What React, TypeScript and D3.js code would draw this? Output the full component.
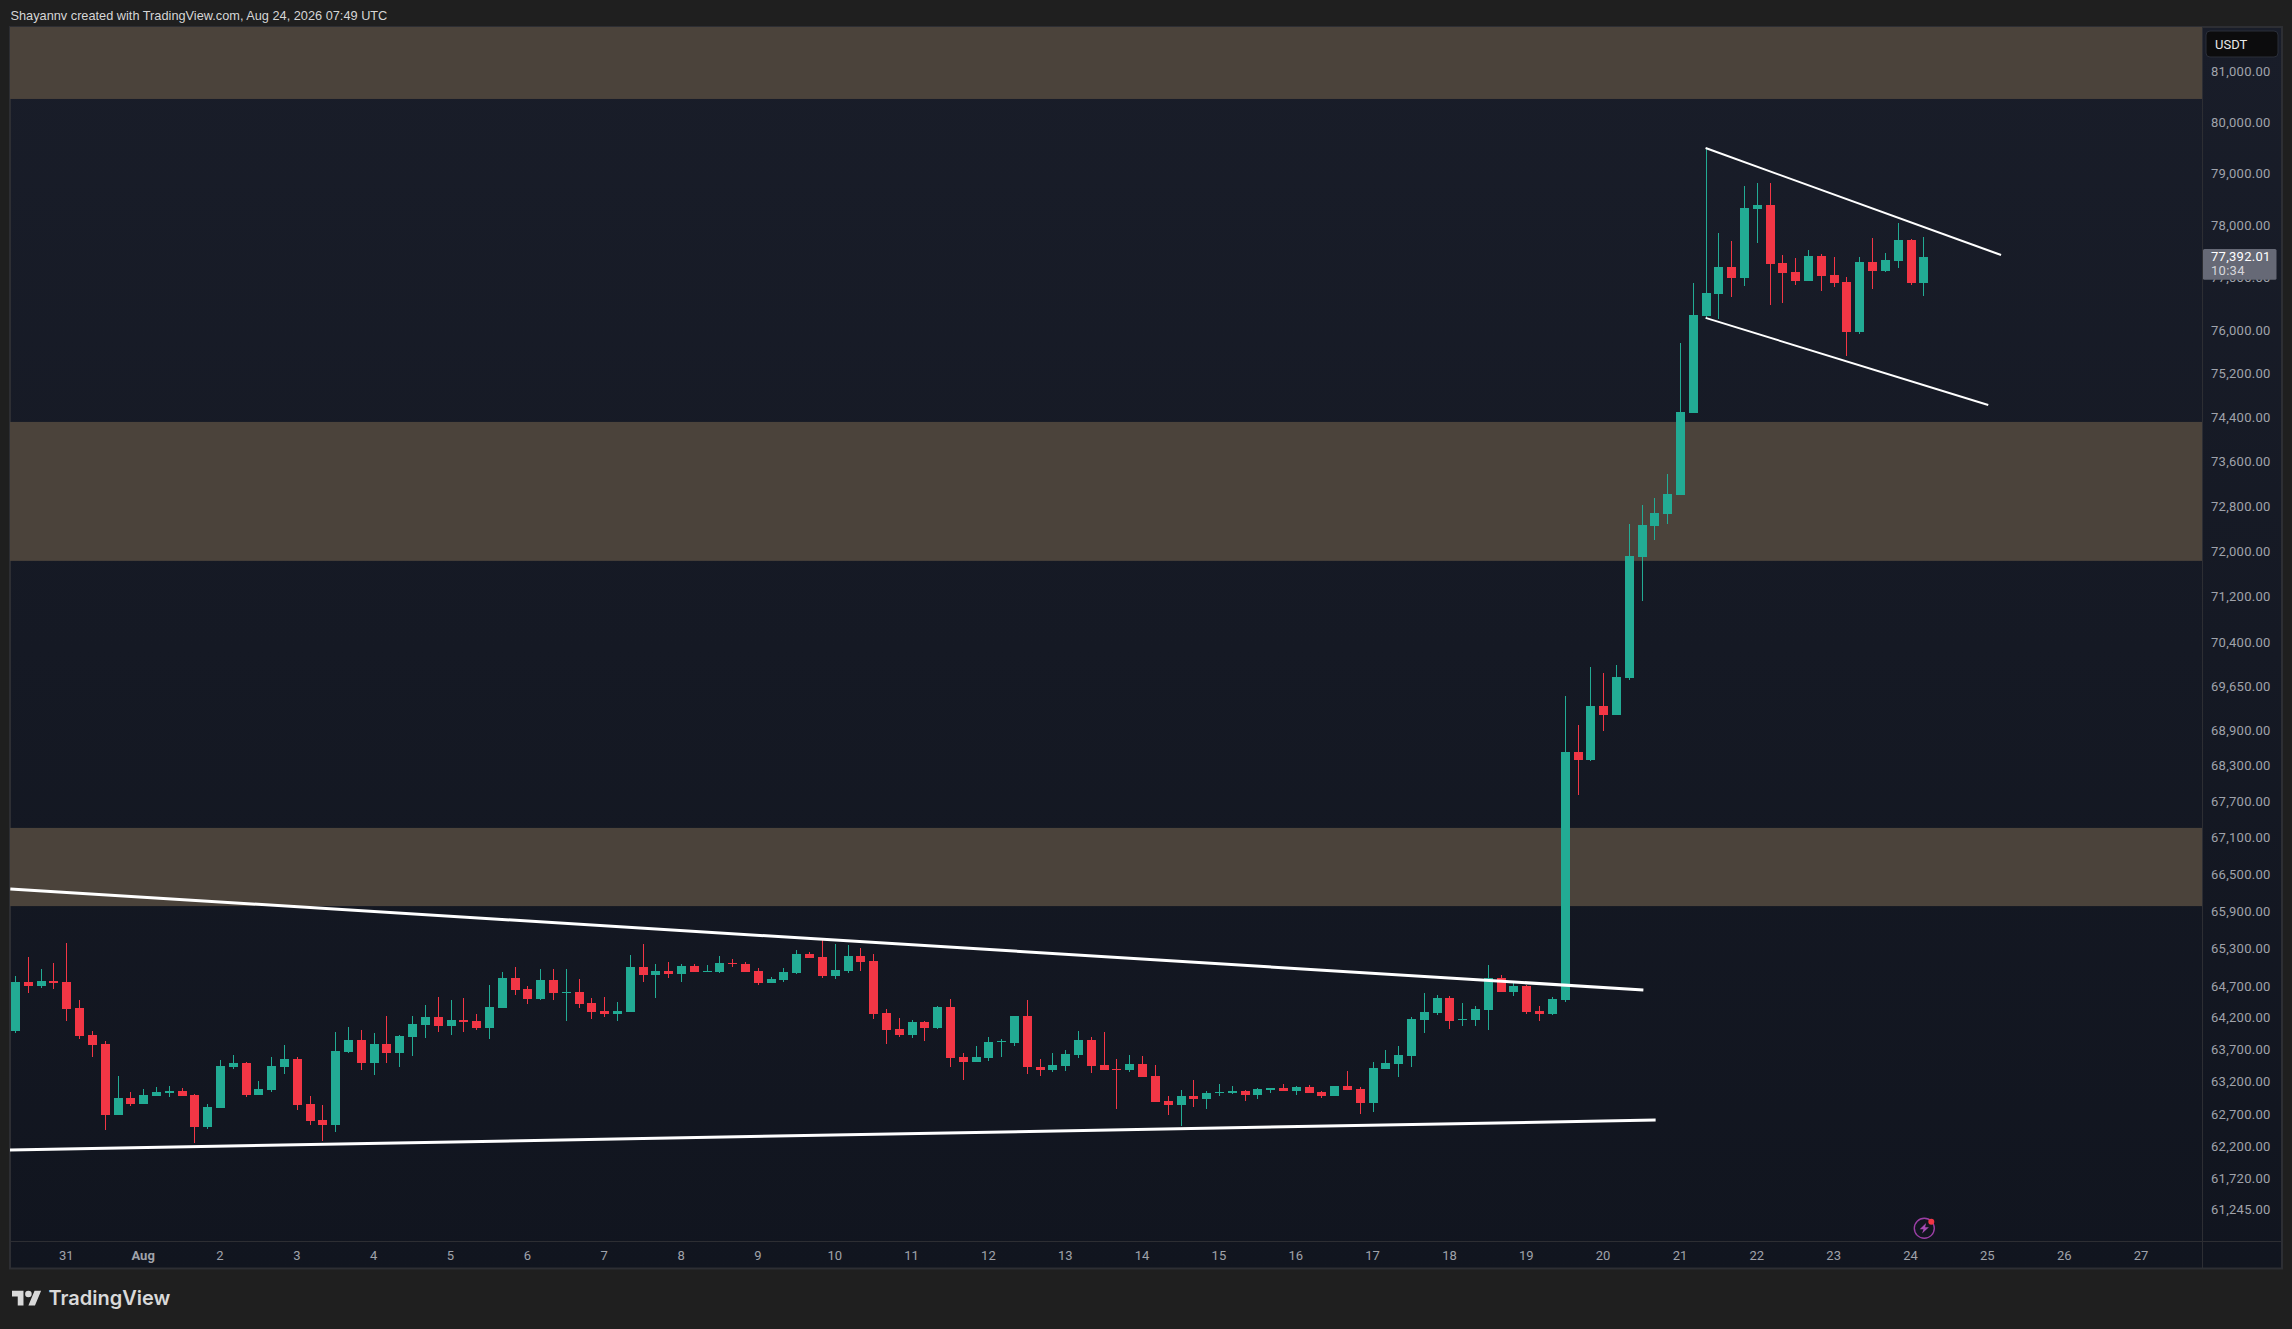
import * as d3 from "d3";

const WIDTH = 2292;
const HEIGHT = 1329;

// 4h BTC/USDT candles (first candle is Jul 30 08:00)
const opens = [
  63993, 64768, 64705, 64784, 64768, 64356, 63930, 63789, 62685, 62948,
  62855, 62979, 63026, 63057, 62995, 62501, 62794, 63430, 63492, 62995,
  63072, 63430, 63555, 62855, 62609, 62532, 63664, 63852, 63492, 63789,
  63648, 63899, 64088, 64213, 64072, 64166, 64150, 64040, 64356, 64832,
  64657, 64498, 64800, 64594, 64609, 64435, 64308, 64261, 64292, 65008,
  64880, 64944, 64896, 65024, 64928, 64928, 65072, 65056, 64944, 64752,
  64800, 64912, 65216, 65168, 64864, 64944, 65184, 65104, 64276, 64025,
  63930, 64135, 64040, 64371, 63586, 63508, 63570, 63820, 63805, 64229,
  63430, 63383, 63445, 63617, 63852, 63461, 63399, 63383, 63477, 63289,
  62902, 62840, 62979, 62933, 63031, 63026, 63057, 62995, 63072, 63103,
  63057, 63119, 63041, 62979, 63134, 63088, 62871, 63399, 63477, 63601,
  64166, 64276, 64514, 64166, 64166, 64324, 64832, 64609, 64705, 64308,
  64261, 64483, 68537, 68401, 69314, 69160, 69795, 71893, 72449, 72661,
  73000, 74486, 76282, 76694, 77205, 76997, 78313, 78389, 77281, 77111,
  76941, 77414, 77054, 76922, 75983, 77300, 77130, 77319, 77716, 76903,
];
const closes = [
  64768, 64705, 64784, 64752, 64339, 63915, 63773, 62685, 62948, 62855,
  62995, 63041, 63062, 62979, 62501, 62809, 63445, 63492, 62995, 63088,
  63445, 63555, 62840, 62593, 62532, 63679, 63852, 63492, 63789, 63648,
  63915, 64103, 64213, 64072, 64166, 64135, 64040, 64371, 64832, 64641,
  64498, 64800, 64594, 64609, 64419, 64292, 64261, 64308, 65008, 64880,
  64944, 64896, 65024, 64928, 64944, 65072, 65061, 64928, 64752, 64816,
  64928, 65216, 65152, 64864, 64960, 65184, 65088, 64261, 64009, 63930,
  64135, 64040, 64371, 63570, 63508, 63586, 63820, 63836, 64229, 63435,
  63383, 63461, 63633, 63852, 63445, 63383, 63383, 63477, 63274, 62886,
  62840, 62979, 62933, 63026, 63041, 63057, 62995, 63088, 63103, 63057,
  63119, 63026, 62979, 63134, 63072, 62871, 63414, 63492, 63617, 64182,
  64292, 64514, 64150, 64182, 64339, 64832, 64609, 64705, 64292, 64261,
  64498, 68537, 68401, 69314, 69160, 69807, 71913, 72467, 72679, 73018,
  74504, 76301, 76713, 77205, 76997, 78332, 78389, 77262, 77092, 76941,
  77414, 77035, 76903, 75983, 77300, 77130, 77338, 77716, 76903, 77392,
];
const highs = [
  64864, 65162, 64971, 65067, 65387, 64477, 63993, 63831, 63289, 63041,
  63083, 63119, 63134, 63098, 63010, 62855, 63539, 63617, 63508, 63212,
  63586, 63773, 63586, 62979, 62840, 63977, 64056, 64009, 63962, 64229,
  63930, 64229, 64403, 64530, 64483, 64514, 64261, 64721, 64928, 65008,
  64705, 64976, 64976, 64976, 64816, 64514, 64530, 64451, 65200, 65376,
  65056, 65088, 65056, 65056, 65040, 65184, 65136, 65088, 64992, 64848,
  64992, 65280, 65248, 65451, 65376, 65360, 65312, 65216, 64339, 64198,
  64166, 64150, 64387, 64498, 63648, 63758, 63899, 63867, 64229, 64483,
  63555, 63648, 63695, 63993, 63899, 63977, 63555, 63617, 63601, 63461,
  62979, 63072, 63227, 63057, 63165, 63134, 63072, 63103, 63103, 63165,
  63134, 63150, 63057, 63134, 63367, 63119, 63508, 63695, 63758, 64213,
  64594, 64562, 64546, 64435, 64387, 65040, 64880, 64768, 64721, 64387,
  64530, 69481, 68994, 69980, 69879, 70011, 72486, 72823, 72948, 73378,
  75771, 76897, 79494, 77853, 77697, 78757, 78815, 78815, 77432, 77376,
  77527, 77451, 77395, 77016, 77395, 77754, 77470, 78045, 77735, 77773,
];
const lows = [
  63967, 64599, 64678, 64662, 64156, 63873, 63591, 62455, 62685, 62824,
  62855, 62979, 62964, 62979, 62257, 62471, 62794, 63399, 62964, 62995,
  63041, 63321, 62762, 62532, 62287, 62425, 63648, 63383, 63305, 63492,
  63430, 63601, 63883, 63977, 63930, 63977, 64009, 63867, 64356, 64562,
  64419, 64483, 64483, 64150, 64356, 64182, 64213, 64150, 64292, 64768,
  64514, 64832, 64768, 64928, 64928, 64912, 65008, 64928, 64721, 64752,
  64768, 64896, 65152, 64832, 64816, 64912, 64944, 64182, 63789, 63899,
  63883, 63836, 64025, 63430, 63227, 63508, 63523, 63586, 63758, 63326,
  63289, 63352, 63367, 63570, 63336, 63383, 62778, 63352, 63274, 62886,
  62685, 62517, 62809, 62778, 62979, 63010, 62902, 62933, 63026, 63057,
  62995, 63026, 62948, 62979, 63072, 62701, 62732, 63399, 63274, 63430,
  63962, 64245, 64025, 64072, 64072, 64009, 64609, 64546, 64261, 64150,
  64245, 64451, 67820, 68383, 68887, 69160, 69759, 71124, 72198, 72486,
  73000, 74486, 76245, 76226, 76637, 76846, 77661, 76488, 76525, 76865,
  76941, 76751, 76827, 75535, 75945, 76789, 77111, 77186, 76865, 76656,
];

const priceTicks = [
  81000, 80000, 79000, 78000, 77000, 76000, 75200, 74400, 73600, 72800,
  72000, 71200, 70400, 69650, 68900, 68300, 67700, 67100, 66500, 65900,
  65300, 64700, 64200, 63700, 63200, 62700, 62200, 61720, 61245,
];
const dayLabels = [
  "31", "Aug", "2", "3", "4", "5", "6", "7", "8", "9", "10", "11", "12", "13",
  "14", "15", "16", "17", "18", "19", "20", "21", "22", "23", "24", "25", "26", "27",
];
const firstDayIndex = 4; // Jul 31 00:00 is the fifth candle
const candlesPerDay = 6;

// supply / demand zones as [upper, lower] price
const zones: [number, number][] = [
  [82500, 80457],
  [74321, 71827],
  [67267, 65987],
];
// trend lines as [candle index, price, candle index, price]
const trendLines: [number, number, number, number, number][] = [
  [-0.37, 66264, 127.14, 64641, 3],
  [-0.4, 62149, 128.1, 62609, 3],
  [132, 79494, 155.07, 77432, 2],
  [132, 76245, 154.07, 74632, 2],
];
const lastPrice = 77392.01;
const countdown = "10:34";
const title = "Shayannv created with TradingView.com, Aug 24, 2026 07:49 UTC";

const UP = "#22ab94";
const DOWN = "#f23645";
const ZONE = "#4b433b";
const FRAME = "#2d2e33";
const AXIS_TEXT = "#a0a3ab";
const FONT = "Roboto, sans-serif";

const paneLeft = 10;
const paneTop = 27;
const paneRight = 2202;
const timeAxisTop = 1241;
const frameRight = 2282;
const frameBottom = 1268.5;

const x = d3.scaleLinear([0, 149], [15.07, 15.07 + 149 * 12.807]);
const y = d3.scaleLog([81000, 61245], [71.6, 1209.7]);
const priceFormat = d3.format(",.2f");

const candles = d3.range(opens.length).map((i) => ({
  i,
  open: opens[i],
  close: closes[i],
  high: highs[i],
  low: lows[i],
}));

export default function App() {
  const bodyWidth = 9;
  return (
    <svg
      width={WIDTH}
      height={HEIGHT}
      style={{ position: "absolute", left: 0, top: 0, display: "block" }}
      fontFamily={FONT}
    >
      <defs>
        <linearGradient id="paneBg" x1="0" y1="0" x2="0" y2="1">
          <stop offset="0" stopColor="#191d29" />
          <stop offset="1" stopColor="#11151f" />
        </linearGradient>
        <clipPath id="pane">
          <rect x={paneLeft} y={paneTop} width={paneRight - paneLeft} height={timeAxisTop - paneTop} />
        </clipPath>
      </defs>
      <rect width={WIDTH} height={HEIGHT} fill="#1f1f1f" />
      <text x={10.5} y={20} fontSize={12.75} fill="#d6d6d6" fontFamily="'Liberation Sans', sans-serif">
        {title}
      </text>

      <rect
        x={paneLeft}
        y={paneTop}
        width={frameRight - paneLeft}
        height={frameBottom - paneTop}
        fill="url(#paneBg)"
        stroke={FRAME}
        strokeWidth={2}
      />

      <g clipPath="url(#pane)">
        {zones.map(([top, bottom], i) => (
          <rect key={i} x={paneLeft} width={paneRight - paneLeft} y={y(top)} height={y(bottom) - y(top)} fill={ZONE} />
        ))}
        {candles.map((c) => {
          const color = c.close >= c.open ? UP : DOWN;
          const cx = Math.round(x(c.i));
          const top = y(Math.max(c.open, c.close));
          const bottom = y(Math.min(c.open, c.close));
          return (
            <g key={c.i} fill={color} shapeRendering="crispEdges">
              <rect x={cx} width={1} y={y(c.high)} height={y(c.low) - y(c.high)} />
              <rect x={cx - 4} width={bodyWidth} y={top} height={Math.max(bottom - top, 1)} />
            </g>
          );
        })}
        {trendLines.map(([i0, p0, i1, p1, w], i) => (
          <line key={i} x1={x(i0)} y1={y(p0)} x2={x(i1)} y2={y(p1)} stroke="#ffffff" strokeWidth={w} />
        ))}
      </g>

      <line x1={paneRight + 0.5} x2={paneRight + 0.5} y1={paneTop} y2={frameBottom} stroke={FRAME} />
      <line x1={paneLeft} x2={frameRight} y1={timeAxisTop + 0.5} y2={timeAxisTop + 0.5} stroke={FRAME} />

      {priceTicks.map((p) => (
        <text key={p} x={2211} y={y(p)} dy="0.34em" fontSize={13} letterSpacing={0.28} fill={AXIS_TEXT}>
          {priceFormat(p)}
        </text>
      ))}

      <rect x={2206} y={31} width={72} height={26} rx={4} fill="#0c0c0d" stroke="#2a2e39" />
      <text x={2215} y={48.5} fontSize={13} fill="#e8e8e8">
        USDT
      </text>

      <rect x={2203} y={y(lastPrice) - 8} width={73.5} height={30.7} rx={1.5} fill="#666976" />
      <text x={2211} y={y(lastPrice) + 4} fontSize={13} letterSpacing={0.28} fill="#ffffff">
        {priceFormat(lastPrice)}
      </text>
      <text x={2211} y={y(lastPrice) + 18} fontSize={13} letterSpacing={0.28} fill="#d5d6da">
        {countdown}
      </text>

      {dayLabels.map((d, i) => (
        <text
          key={d}
          x={x(firstDayIndex + i * candlesPerDay)}
          y={1260}
          textAnchor="middle"
          fontSize={13}
          fontWeight={d === "Aug" ? 700 : 400}
          fill={AXIS_TEXT}
        >
          {d}
        </text>
      ))}

      {/* bolt marker */}
      <g transform="translate(1924.3,1228.3)">
        <circle r={10} fill="none" stroke="#9c3fa6" strokeWidth={1.4} />
        <path d="M1.8,-5.2 L-4.6,1 L-0.8,1 L-2.2,5.2 L4.6,-1 L0.8,-1 Z" fill="#a64bb4" />
        <circle cx={7} cy={-6.6} r={3} fill={DOWN} />
      </g>

      {/* TradingView logo */}
      <g transform="translate(12,1287.4) scale(0.82)" fill="#d9d9d9">
        <path d="M14 22H7V11H0V4h14v18zM28 22h-8l7.5-18h8L28 22z" />
        <circle cx={20} cy={8} r={4} />
      </g>
      <text x={48.5} y={1305} fontFamily="Inter, sans-serif" fontSize={20} fontWeight={600} fill="#d9d9d9">
        TradingView
      </text>
    </svg>
  );
}
